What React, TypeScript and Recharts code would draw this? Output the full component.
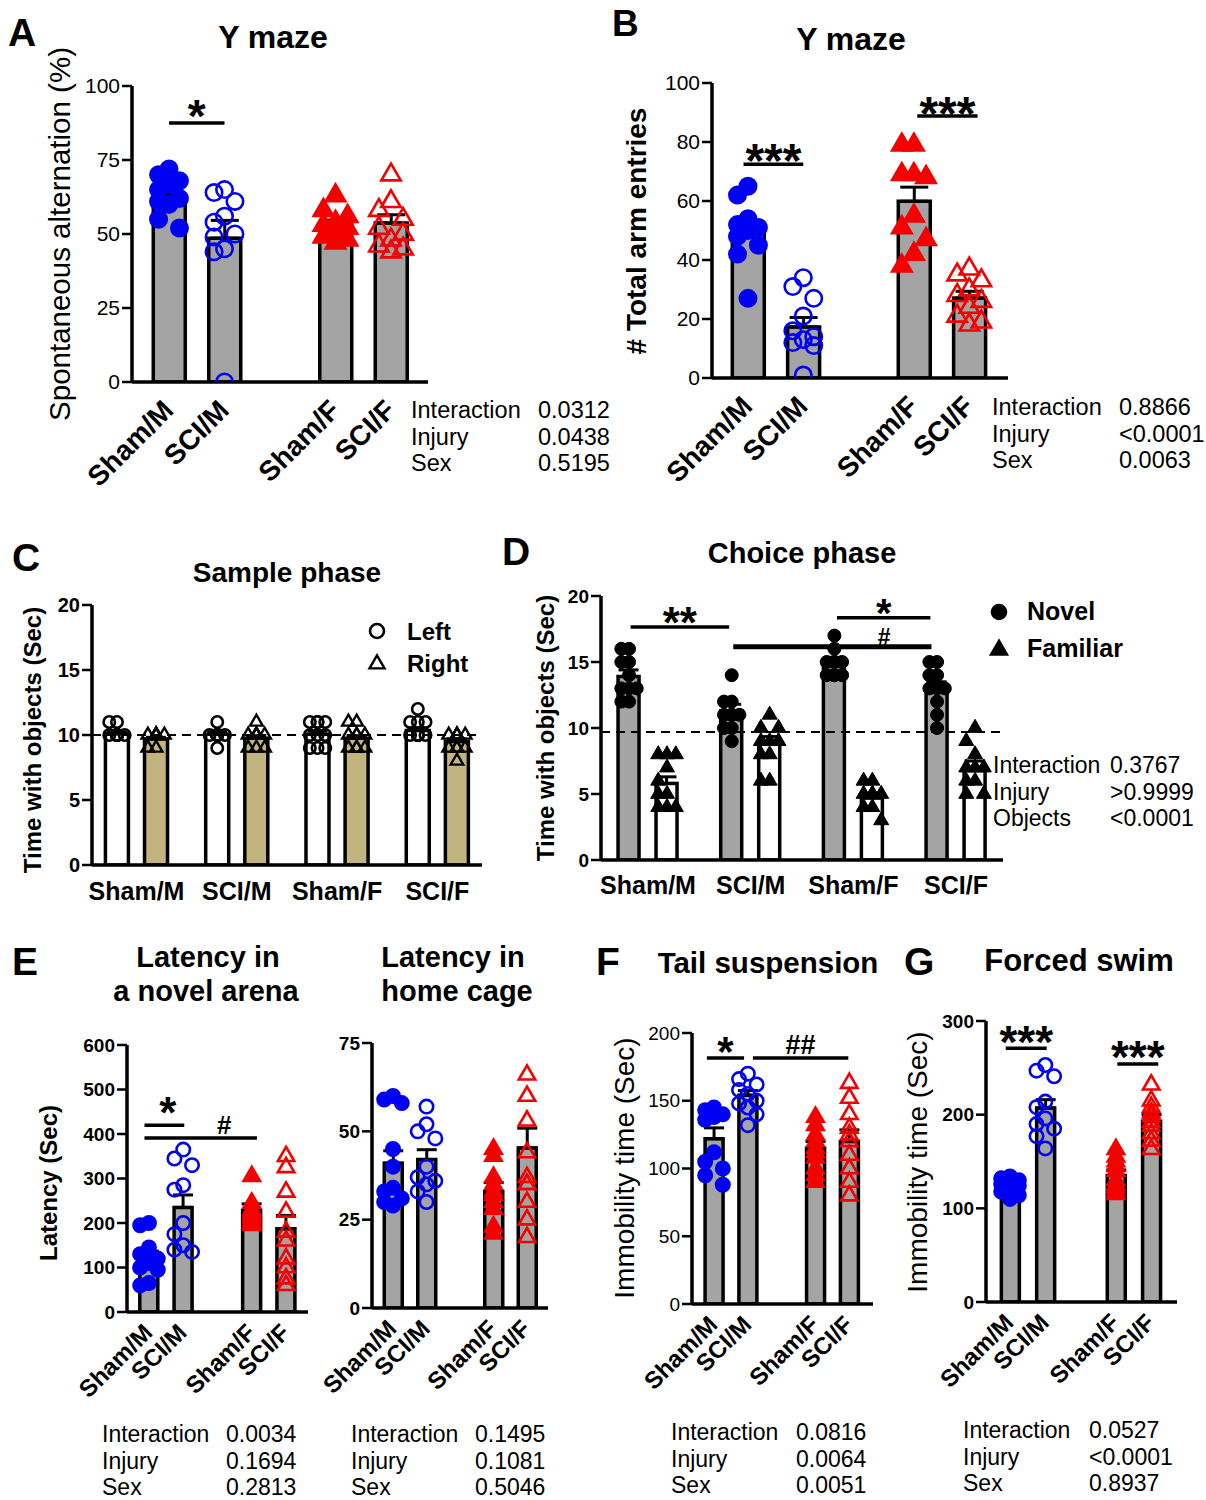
import React from "react";
import { ComposedChart, Bar, XAxis, YAxis, Scatter, ErrorBar, ReferenceLine, Cell } from "recharts";

const FONT = "'Liberation Sans', Arial, Helvetica, sans-serif";
const BLUE = "#0000f5";
const RED = "#f50000";
const GRAY = "#a4a4a4";
const KHAKI = "#c2b47e";
const WHITE = "#ffffff";
const BLACK = "#000000";

// ---------------- data ----------------
const groupLabels = ["Sham/M", "SCI/M", "Sham/F", "SCI/F"];
const statNames = ["Interaction", "Injury", "Sex"];
const statNamesD = ["Interaction", "Injury", "Objects"];

// A: Y maze, spontaneous alternation (%)
const aMeans = [63.3, 48.6, 53.1, 53.7];
const aSems = [2.0, 6.0, 1.6, 2.8];
const aShamM = [72, 70, 68, 67, 65, 62, 61, 60, 55, 52];
const aSciM = [65, 64, 61, 56, 54, 50, 49, 45, 44, 0];
const aShamF = [63, 58, 56, 54, 53, 52, 50, 49, 48, 47];
const aSciF = [70, 61, 58, 55, 52, 50, 48, 46, 45, 44];
const aTicks = [0, 25, 50, 75, 100];
const aStats = ["0.0312", "0.0438", "0.5195"];

// B: Y maze, total arm entries
const bMeans = [49.4, 17.3, 59.9, 27.1];
const bSems = [3.2, 3.2, 4.8, 2.3];
const bShamM = [65, 62, 54, 52, 51, 50, 48, 45, 42, 27];
const bSciM = [34, 31, 27, 21, 16, 14, 13, 12, 11, 1];
const bShamF = [79, 79, 69, 69, 68, 55, 51, 47, 42, 38];
const bSciF = [37, 35, 33, 30, 28, 26, 24, 21, 19, 18];
const bTicks = [0, 20, 40, 60, 80, 100];
const bStats = ["0.8866", "<0.0001", "0.0063"];

// C: sample phase (left / right objects)
const cLeftMeans = [10.1, 10.05, 10.05, 10.35];
const cLeftSems = [0.15, 0.2, 0.25, 0.2];
const cRightMeans = [9.7, 9.75, 9.75, 9.5];
const cRightSems = [0.12, 0.2, 0.2, 0.2];
const cLeftPts = [
  [11, 11, 10, 10, 10, 10, 10, 10, 10, 10],
  [11, 10, 10, 10, 10, 10, 10, 10, 9, 10],
  [11, 11, 11, 11, 10, 10, 10, 9, 9, 9],
  [12, 11, 11, 11, 10, 10, 10, 10, 10, 10],
];
const cRightPts = [
  [10, 10, 10, 10, 10, 10, 10, 10, 9, 9],
  [11, 10, 10, 10, 10, 10, 10, 9, 9, 9],
  [11, 11, 10, 10, 10, 10, 9, 9, 9, 9],
  [10, 10, 10, 10, 10, 9, 9, 9, 9, 8],
];
const cTicks = [0, 5, 10, 15, 20];
const cChance = 10;

// D: choice phase (novel / familiar objects)
const dNovelMeans = [13.9, 11.3, 15.0, 13.0];
const dNovelSems = [0.5, 0.5, 0.35, 0.5];
const dFamMeans = [5.8, 8.8, 4.7, 7.0];
const dFamSems = [0.5, 0.55, 0.3, 0.5];
const dNovelPts = [
  [16, 16, 15, 15, 14, 13, 13, 12, 12, 13],
  [14, 12, 12, 11, 11, 11, 11, 10, 10, 9],
  [17, 16, 15, 15, 15, 15, 14, 14, 14, 14],
  [15, 15, 14, 14, 13, 13, 13, 12, 11, 10],
];
const dFamPts = [
  [8, 8, 8, 7, 6, 5, 5, 4, 4, 4],
  [11, 10, 10, 9, 9, 9, 8, 8, 6, 6],
  [6, 6, 5, 5, 5, 5, 5, 4, 4, 3],
  [10, 9, 8, 7, 7, 7, 6, 6, 5, 5],
];
const dTicks = [0, 5, 10, 15, 20];
const dChance = 9.7;
const dStats = ["0.3767", ">0.9999", "<0.0001"];

// E: latency in a novel arena
const e1Means = [122, 235, 228, 187];
const e1Sems = [15, 28, 15, 30];
const e1ShamM = [200, 195, 145, 130, 120, 110, 100, 95, 65, 60];
const e1SciM = [365, 345, 330, 285, 275, 200, 175, 150, 140, 135];
const e1ShamF = [305, 245, 230, 225, 220, 215, 210, 205, 200, 195];
const e1SciF = [350, 325, 270, 225, 180, 160, 120, 100, 75, 60];
const e1Ticks = [0, 100, 200, 300, 400, 500, 600];
const e1Stats = ["0.0034", "0.1694", "0.2813"];

// E: latency in home cage
const e2Means = [41, 42, 33, 45.3];
const e2Sems = [3.5, 2.8, 2.5, 5.6];
const e2ShamM = [60, 59, 58, 45, 40, 34, 33, 31, 30, 29];
const e2SciM = [57, 52, 50, 48, 40, 37, 36, 35, 33, 30];
const e2ShamF = [45, 43, 37, 35, 33, 32, 30, 28, 23, 21];
const e2SciF = [66, 60, 53, 44, 37, 35, 35, 30, 25, 20];
const e2Ticks = [0, 25, 50, 75];
const e2Stats = ["0.1495", "0.1081", "0.5046"];

// F: tail suspension
const fMeans = [122, 154, 115, 120];
const fSems = [8, 3.5, 5, 8.5];
const fShamM = [145, 143, 140, 138, 136, 112, 105, 100, 95, 88];
const fSciM = [170, 166, 162, 158, 155, 150, 148, 145, 140, 132];
const fShamF = [138, 132, 125, 120, 115, 112, 108, 100, 95, 90];
const fSciF = [163, 152, 140, 130, 125, 120, 110, 100, 90, 80];
const fTicks = [0, 50, 100, 150, 200];
const fStats = ["0.0816", "0.0064", "0.0051"];

// G: forced swim
const gMeans = [122, 207, 135, 193];
const gSems = [3, 9, 6, 7];
const gShamM = [134, 132, 130, 128, 126, 124, 122, 118, 114, 110];
const gSciM = [253, 247, 241, 214, 208, 196, 190, 185, 177, 164];
const gShamF = [163, 155, 150, 145, 140, 130, 125, 122, 118, 115];
const gSciF = [232, 215, 208, 202, 198, 192, 188, 180, 172, 163];
const gTicks = [0, 100, 200, 300];
const gStats = ["0.0527", "<0.0001", "0.8937"];

// ---------------- types & helpers ----------------
type PStyle = { shape: "circle" | "triangle"; filled: boolean; color: string; size: number; sw: number };
type BarSpec = { pos: number; mean: number; sem: number; fill: string; pts: number[]; ps: PStyle };
type SigSpec = { x1: number; x2: number; y: number; text: string; fs: number; gap: number; lx?: number; sw?: number };
type PanelCfg = {
  x0: number; x1: number; yTopPx: number; yBotPx: number;
  xDomain: [number, number]; yMax: number; yTicks: number[];
  barSize: number; capW: number; bars: BarSpec[]; sigs: SigSpec[];
  dashY?: number; tickPos: number[]; tickLabels: string[];
  rotated: boolean; xFs: number; yFs: number; yBold: boolean; spread: number;
  labDx: number; labDy: number;
};

const YW = 70, MT = 45, MR = 12, XH = 125;

function swarm(vals: number[], pxPerY: number, size: number, maxHalf: number): number[] {
  const order = vals.map((v, i) => ({ v, i })).sort((a, b) => b.v - a.v);
  const placed: { x: number; y: number }[] = [];
  const out = new Array(vals.length).fill(0);
  const minD = size * 0.85;
  const step = size * 0.55;
  for (const { v, i } of order) {
    const y = v * pxPerY;
    const cands = [0];
    for (let k = 1; k * step <= maxHalf + 0.01; k++) cands.push(-k * step, k * step);
    let best = 0, bestScore = -Infinity;
    for (const c of cands) {
      let md = Infinity;
      for (const p of placed) md = Math.min(md, Math.hypot(p.x - c, p.y - y));
      if (md >= minD) { best = c; break; }
      if (md > bestScore) { bestScore = md; best = c; }
    }
    placed.push({ x: best, y });
    out[i] = best;
  }
  return out;
}

function makeShape(ps: PStyle) {
  return (props: any) => {
    const { cx, cy } = props;
    if (cx == null || cy == null) return <g />;
    const fill = ps.filled ? ps.color : "none";
    if (ps.shape === "circle") {
      const r = ps.size / 2 - ps.sw / 2;
      return <circle cx={cx} cy={cy} r={r} fill={fill} stroke={ps.color} strokeWidth={ps.sw} />;
    }
    const s = ps.size - ps.sw;
    const h = s * 0.866;
    const pts = `${cx},${cy - (h * 2) / 3} ${cx - s / 2},${cy + h / 3} ${cx + s / 2},${cy + h / 3}`;
    return <polygon points={pts} fill={fill} stroke={ps.color} strokeWidth={ps.sw} strokeLinejoin="miter" />;
  };
}

function Panel({ c }: { c: PanelCfg }) {
  const plotW = c.x1 - c.x0;
  const plotH = c.yBotPx - c.yTopPx;
  const W = plotW + YW + MR;
  const H = plotH + MT + XH;
  const slotPx = plotW / (c.xDomain[1] - c.xDomain[0]);
  const pxPerY = plotH / c.yMax;
  const barData = c.bars.map((b) => ({ x: b.pos, v: b.mean, err: [0, b.sem] }));
  const scatterSets = c.bars.map((b) => {
    const offs = swarm(b.pts, pxPerY, b.ps.size, c.spread);
    return b.pts.map((v, i) => ({ x: b.pos + offs[i] / slotPx, v }));
  });
  const labelFor = (val: number) => {
    const i = c.tickPos.findIndex((p) => Math.abs(p - val) < 1e-6);
    return i >= 0 ? c.tickLabels[i] : "";
  };
  const xTick = (p: any) => {
    const lab = labelFor(p.payload.value);
    if (c.rotated) {
      const ax = p.x + c.labDx, ay = p.y + c.labDy;
      return (
        <text x={ax} y={ay} transform={`rotate(-45 ${ax} ${ay})`} textAnchor="end" fontFamily={FONT}
          fontWeight="bold" fontSize={c.xFs} fill={BLACK}>{lab}</text>
      );
    }
    return (
      <text x={p.x + c.labDx} y={p.y + c.labDy} textAnchor="middle" fontFamily={FONT} fontWeight="bold"
        fontSize={c.xFs} fill={BLACK}>{lab}</text>
    );
  };
  const sigLabel = (s: SigSpec) => (p: any) => {
    const vb = p.viewBox || {};
    const cx = s.lx !== undefined ? YW + (s.lx - c.xDomain[0]) * slotPx : (vb.x ?? 0) + (vb.width ?? 0) / 2;
    const factor = s.text.startsWith("#") ? 0.35 : 0.565;
    const by = (vb.y ?? 0) - s.gap + factor * s.fs;
    return (
      <text x={cx} y={by} textAnchor="middle" fontFamily={FONT} fontWeight="bold" fontSize={s.fs} fill={BLACK}>
        {s.text}
      </text>
    );
  };
  return (
    <div style={{ position: "absolute", left: c.x0 - YW, top: c.yTopPx - MT, width: W, height: H }}>
      <ComposedChart width={W} height={H} data={barData} margin={{ top: MT, right: MR, bottom: 0, left: 0 }}>
        <XAxis xAxisId="m" dataKey="x" type="number" domain={c.xDomain} allowDataOverflow ticks={c.tickPos}
          interval={0} height={XH} axisLine={{ stroke: BLACK, strokeWidth: 3.5 }} tickLine={false} tickSize={0}
          tick={xTick} />
        <XAxis xAxisId="s" dataKey="x" type="number" domain={c.xDomain} allowDataOverflow hide height={0} />
        <XAxis xAxisId="eb" dataKey="x" type="number" domain={c.xDomain} allowDataOverflow hide height={0} />
        <YAxis type="number" domain={[0, c.yMax]} allowDataOverflow ticks={c.yTicks} interval={0} width={YW}
          axisLine={{ stroke: BLACK, strokeWidth: 3.5 }} tickLine={{ stroke: BLACK, strokeWidth: 2.5 }} tickSize={10}
          tick={{ fontSize: c.yFs, fill: BLACK, fontFamily: FONT, fontWeight: c.yBold ? "bold" : "normal" }} />
        <Bar xAxisId="m" dataKey="v" barSize={c.barSize} stroke={BLACK} strokeWidth={3.5} isAnimationActive={false}>
          {c.bars.map((b, i) => (
            <Cell key={i} fill={b.fill} />
          ))}
        </Bar>
        {c.dashY !== undefined && (
          <ReferenceLine xAxisId="s" y={c.dashY} stroke={BLACK} strokeWidth={2} strokeDasharray="9 6" />
        )}
        {c.bars.map((b, i) => (
          <Scatter key={i} xAxisId="s" data={scatterSets[i]} dataKey="v" shape={makeShape(b.ps)}
            isAnimationActive={false} />
        ))}
        <Bar xAxisId="eb" dataKey="v" barSize={c.barSize} fill="none" stroke="none" isAnimationActive={false}>
          <ErrorBar dataKey="err" width={c.capW} stroke={BLACK} strokeWidth={3} direction="y" />
        </Bar>
        {c.sigs.map((s, i) => (
          <ReferenceLine key={"s" + i} xAxisId="s" segment={[{ x: s.x1, y: s.y }, { x: s.x2, y: s.y }]}
            stroke={BLACK} strokeWidth={s.sw ?? 3.5} ifOverflow="visible" label={sigLabel(s)} />
        ))}
      </ComposedChart>
    </div>
  );
}

// ---------------- layout ----------------
const slots4 = [0, 1, 3, 4];
const styles4 = (size: number, sw: number): PStyle[] => [
  { shape: "circle", filled: true, color: BLUE, size, sw },
  { shape: "circle", filled: false, color: BLUE, size, sw },
  { shape: "triangle", filled: true, color: RED, size: size + 3, sw },
  { shape: "triangle", filled: false, color: RED, size: size + 3, sw },
];

function fourBars(means: number[], sems: number[], pts: number[][], size: number): BarSpec[] {
  const st = styles4(size, 2.6);
  return means.map((m, i) => ({ pos: slots4[i], mean: m, sem: sems[i], fill: GRAY, pts: pts[i], ps: st[i] }));
}

function pairBars(
  m1: number[], s1: number[], p1: number[][], f1: string, ps1: PStyle,
  m2: number[], s2: number[], p2: number[][], f2: string, ps2: PStyle, off: number
): BarSpec[] {
  const out: BarSpec[] = [];
  m1.forEach((_, g) => {
    out.push({ pos: g - off, mean: m1[g], sem: s1[g], fill: f1, pts: p1[g], ps: ps1 });
    out.push({ pos: g + off, mean: m2[g], sem: s2[g], fill: f2, pts: p2[g], ps: ps2 });
  });
  return out;
}

const cfgA: PanelCfg = {
  x0: 132, x1: 428, yTopPx: 86, yBotPx: 382, xDomain: [-0.667, 4.667], yMax: 100, yTicks: aTicks,
  barSize: 32, capW: 14, bars: fourBars(aMeans, aSems, [aShamM, aSciM, aShamF, aSciF], 19),
  sigs: [{ x1: 0, x2: 1, y: 87.5, text: "*", fs: 46, gap: 17 }],
  tickPos: slots4, tickLabels: groupLabels, rotated: true, xFs: 28, yFs: 21, yBold: false, spread: 13,
  labDx: 6, labDy: 28,
};
const cfgB: PanelCfg = {
  x0: 712, x1: 1008, yTopPx: 83, yBotPx: 378, xDomain: [-0.65, 4.7], yMax: 100, yTicks: bTicks,
  barSize: 32, capW: 14, bars: fourBars(bMeans, bSems, [bShamM, bSciM, bShamF, bSciF], 19),
  sigs: [
    { x1: -0.08, x2: 1.0, y: 72.5, text: "***", fs: 48, gap: 14 },
    { x1: 3.06, x2: 4.15, y: 88.8, text: "***", fs: 48, gap: 13 },
  ],
  tickPos: slots4, tickLabels: groupLabels, rotated: true, xFs: 28, yFs: 21, yBold: false, spread: 13,
  labDx: 6, labDy: 28,
};
const cfgC: PanelCfg = {
  x0: 92, x1: 482, yTopPx: 605, yBotPx: 865, xDomain: [-0.444, 3.445], yMax: 20, yTicks: cTicks,
  barSize: 23, capW: 10,
  bars: pairBars(
    cLeftMeans, cLeftSems, cLeftPts, WHITE, { shape: "circle", filled: false, color: BLACK, size: 14, sw: 2.6 },
    cRightMeans, cRightSems, cRightPts, KHAKI, { shape: "triangle", filled: false, color: BLACK, size: 15, sw: 2.4 },
    0.195
  ),
  sigs: [], dashY: cChance,
  tickPos: [0, 1, 2, 3], tickLabels: groupLabels, rotated: false, xFs: 25, yFs: 20, yBold: true, spread: 9,
  labDx: 0, labDy: 33,
};
const cfgD: PanelCfg = {
  x0: 601, x1: 1003, yTopPx: 596, yBotPx: 860, xDomain: [-0.458, 3.457], yMax: 20, yTicks: dTicks,
  barSize: 21, capW: 10,
  bars: pairBars(
    dNovelMeans, dNovelSems, dNovelPts, GRAY, { shape: "circle", filled: true, color: BLACK, size: 14, sw: 1 },
    dFamMeans, dFamSems, dFamPts, WHITE, { shape: "triangle", filled: true, color: BLACK, size: 16, sw: 1 },
    0.185
  ),
  sigs: [
    { x1: -0.17, x2: 0.79, y: 17.65, text: "**", fs: 44, gap: 14 },
    { x1: 1.84, x2: 2.75, y: 18.35, text: "*", fs: 40, gap: 13.5 },
    { x1: 0.83, x2: 2.76, y: 16.16, text: "#", fs: 23, gap: 9.8, lx: 2.3, sw: 5 },
  ],
  dashY: dChance,
  tickPos: [0, 1, 2, 3], tickLabels: groupLabels, rotated: false, xFs: 25, yFs: 19, yBold: true, spread: 9,
  labDx: 0, labDy: 32,
};
const cfgE1: PanelCfg = {
  x0: 127, x1: 308, yTopPx: 1045, yBotPx: 1312, xDomain: [-0.64, 4.64], yMax: 600, yTicks: e1Ticks,
  barSize: 18, capW: 10, bars: fourBars(e1Means, e1Sems, [e1ShamM, e1SciM, e1ShamF, e1SciF], 16),
  sigs: [
    { x1: -0.13, x2: 1.03, y: 419.6, text: "*", fs: 44, gap: 22.5, lx: 0.55 },
    { x1: -0.13, x2: 3.15, y: 391, text: "#", fs: 26, gap: 13, lx: 2.2 },
  ],
  tickPos: slots4, tickLabels: groupLabels, rotated: true, xFs: 24, yFs: 19, yBold: true, spread: 9,
  labDx: 5, labDy: 20,
};
const cfgE2: PanelCfg = {
  x0: 372, x1: 548, yTopPx: 1043, yBotPx: 1308, xDomain: [-0.627, 4.627], yMax: 75, yTicks: e2Ticks,
  barSize: 18, capW: 10, bars: fourBars(e2Means, e2Sems, [e2ShamM, e2SciM, e2ShamF, e2SciF], 16),
  sigs: [],
  tickPos: slots4, tickLabels: groupLabels, rotated: true, xFs: 24, yFs: 19, yBold: true, spread: 9,
  labDx: 5, labDy: 20,
};
const cfgF: PanelCfg = {
  x0: 692, x1: 873, yTopPx: 1033, yBotPx: 1304, xDomain: [-0.65, 4.7], yMax: 200, yTicks: fTicks,
  barSize: 18, capW: 10, bars: fourBars(fMeans, fSems, [fShamM, fSciM, fShamF, fSciF], 16),
  sigs: [
    { x1: -0.21, x2: 0.89, y: 181.5, text: "*", fs: 42, gap: 16 },
    { x1: 1.15, x2: 3.97, y: 181.5, text: "##", fs: 27, gap: 13.4 },
  ],
  tickPos: slots4, tickLabels: groupLabels, rotated: true, xFs: 24, yFs: 19, yBold: false, spread: 9,
  labDx: 5, labDy: 20,
};
const cfgG: PanelCfg = {
  x0: 986, x1: 1177, yTopPx: 1021, yBotPx: 1302, xDomain: [-0.68, 4.73], yMax: 300, yTicks: gTicks,
  barSize: 18, capW: 10, bars: fourBars(gMeans, gSems, [gShamM, gSciM, gShamF, gSciF], 16),
  sigs: [
    { x1: -0.12, x2: 1.04, y: 271, text: "***", fs: 46, gap: 16.4 },
    { x1: 3.04, x2: 4.2, y: 254, text: "***", fs: 46, gap: 17.4 },
  ],
  tickPos: slots4, tickLabels: groupLabels, rotated: true, xFs: 24, yFs: 19, yBold: true, spread: 9,
  labDx: 5, labDy: 20,
};

// ---------------- overlay text ----------------
type TP = { x: number; y: number; s: string; fs: number; bold?: boolean; anchor?: "start" | "middle" | "end"; rot?: boolean };
const Txt = ({ x, y, s, fs, bold, anchor = "start", rot }: TP) => (
  <text x={x} y={y} fontFamily={FONT} fontSize={fs} fontWeight={bold ? "bold" : "normal"} textAnchor={anchor}
    fill={BLACK} transform={rot ? `rotate(-90 ${x} ${y})` : undefined} dominantBaseline={rot ? "central" : undefined}>
    {s}
  </text>
);

function Stats({ names, vals, lx, vx, ys, fs }: { names: string[]; vals: string[]; lx: number; vx: number; ys: number[]; fs: number }) {
  return (
    <g>
      {names.map((n, i) => (
        <Txt key={"n" + i} x={lx} y={ys[i]} s={n} fs={fs} />
      ))}
      {vals.map((v, i) => (
        <Txt key={"v" + i} x={vx} y={ys[i]} s={v} fs={fs} />
      ))}
    </g>
  );
}

function Overlay() {
  const circ = (cx: number, cy: number, r: number, filled: boolean) => (
    <circle cx={cx} cy={cy} r={r} fill={filled ? BLACK : "none"} stroke={BLACK} strokeWidth={2.6} />
  );
  const tri = (cx: number, cy: number, s: number, filled: boolean) => {
    const h = s * 0.866;
    return (
      <polygon points={`${cx},${cy - (h * 2) / 3} ${cx - s / 2},${cy + h / 3} ${cx + s / 2},${cy + h / 3}`}
        fill={filled ? BLACK : "none"} stroke={BLACK} strokeWidth={2.4} />
    );
  };
  return (
    <svg width={1206} height={1500} style={{ position: "absolute", left: 0, top: 0, pointerEvents: "none" }}>
      {/* panel letters */}
      <Txt x={8} y={46} s="A" fs={39} bold />
      <Txt x={612} y={36} s="B" fs={37} bold />
      <Txt x={12} y={571} s="C" fs={39} bold />
      <Txt x={502} y={565} s="D" fs={39} bold />
      <Txt x={12} y={975} s="E" fs={39} bold />
      <Txt x={596} y={975} s="F" fs={39} bold />
      <Txt x={904} y={975} s="G" fs={39} bold />
      {/* titles */}
      <Txt x={273} y={48} s="Y maze" fs={32} bold anchor="middle" />
      <Txt x={851} y={50} s="Y maze" fs={32} bold anchor="middle" />
      <Txt x={287} y={582} s="Sample phase" fs={28} bold anchor="middle" />
      <Txt x={802} y={563} s="Choice phase" fs={29} bold anchor="middle" />
      <Txt x={208} y={967} s="Latency in" fs={29} bold anchor="middle" />
      <Txt x={206} y={1001} s="a novel arena" fs={29} bold anchor="middle" />
      <Txt x={453} y={967} s="Latency in" fs={29} bold anchor="middle" />
      <Txt x={457} y={1001} s="home cage" fs={29} bold anchor="middle" />
      <Txt x={768} y={973} s="Tail suspension" fs={29.5} bold anchor="middle" />
      <Txt x={1079} y={971} s="Forced swim" fs={31} bold anchor="middle" />
      {/* y-axis titles */}
      <Txt x={59} y={234} s="Spontaneous alternation (%)" fs={29.5} anchor="middle" rot />
      <Txt x={636} y={231} s="# Total arm entries" fs={28} bold anchor="middle" rot />
      <Txt x={32} y={740} s="Time with objects (Sec)" fs={24} bold anchor="middle" rot />
      <Txt x={545} y={728} s="Time with objects (Sec)" fs={24} bold anchor="middle" rot />
      <Txt x={48} y={1183} s="Latency (Sec)" fs={24} bold anchor="middle" rot />
      <Txt x={624} y={1168} s="Immobility time (Sec)" fs={28} anchor="middle" rot />
      <Txt x={917} y={1162} s="Immobility time (Sec)" fs={28} anchor="middle" rot />
      {/* legends */}
      {circ(377, 631, 7, false)}
      <Txt x={407} y={640} s="Left" fs={24} bold />
      {tri(377, 664, 15, false)}
      <Txt x={407} y={672} s="Right" fs={24} bold />
      {circ(999, 612, 7, true)}
      <Txt x={1027} y={620} s="Novel" fs={25} bold />
      {tri(999, 650, 16, true)}
      <Txt x={1027} y={657} s="Familiar" fs={25} bold />
      {/* statistics */}
      <Stats names={statNames} vals={aStats} lx={411} vx={538} ys={[418, 445, 471]} fs={23.5} />
      <Stats names={statNames} vals={bStats} lx={992} vx={1119} ys={[415, 442, 468]} fs={23.5} />
      <Stats names={statNamesD} vals={dStats} lx={993} vx={1110} ys={[773, 800, 826]} fs={23} />
      <Stats names={statNames} vals={e1Stats} lx={102} vx={226} ys={[1442, 1469, 1495]} fs={23} />
      <Stats names={statNames} vals={e2Stats} lx={351} vx={475} ys={[1442, 1469, 1495]} fs={23} />
      <Stats names={statNames} vals={fStats} lx={671} vx={796} ys={[1440, 1467, 1493]} fs={23} />
      <Stats names={statNames} vals={gStats} lx={963} vx={1089} ys={[1438, 1465, 1491]} fs={23} />
    </svg>
  );
}

export default function App() {
  return (
    <div style={{ position: "absolute", left: 0, top: 0, width: 1206, height: 1500, background: "#fff", overflow: "hidden" }}>
      <Panel c={cfgA} />
      <Panel c={cfgB} />
      <Panel c={cfgC} />
      <Panel c={cfgD} />
      <Panel c={cfgE1} />
      <Panel c={cfgE2} />
      <Panel c={cfgF} />
      <Panel c={cfgG} />
      <Overlay />
    </div>
  );
}
